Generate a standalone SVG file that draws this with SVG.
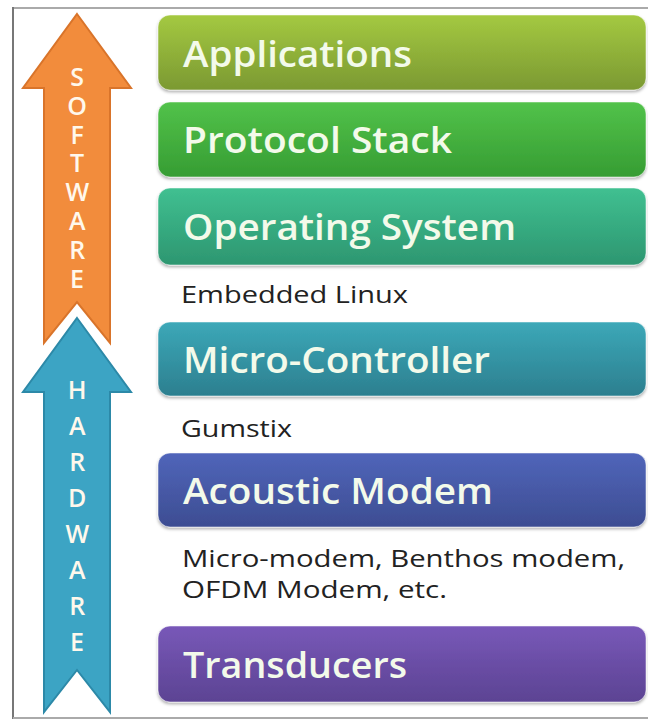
<svg xmlns="http://www.w3.org/2000/svg" width="648" height="724" viewBox="0 0 648 724">
  <defs>
    <linearGradient id="g1" x1="0" y1="0" x2="0" y2="1"><stop offset="0" stop-color="#A4C941"/><stop offset="1" stop-color="#7B9932"/></linearGradient>
    <linearGradient id="g2" x1="0" y1="0" x2="0" y2="1"><stop offset="0" stop-color="#52C24A"/><stop offset="1" stop-color="#369D33"/></linearGradient>
    <linearGradient id="g3" x1="0" y1="0" x2="0" y2="1"><stop offset="0" stop-color="#40C091"/><stop offset="1" stop-color="#2D9670"/></linearGradient>
    <linearGradient id="g4" x1="0" y1="0" x2="0" y2="1"><stop offset="0" stop-color="#3CA8B8"/><stop offset="1" stop-color="#2C7F8F"/></linearGradient>
    <linearGradient id="g5" x1="0" y1="0" x2="0" y2="1"><stop offset="0" stop-color="#5065BA"/><stop offset="1" stop-color="#3D4D92"/></linearGradient>
    <linearGradient id="g6" x1="0" y1="0" x2="0" y2="1"><stop offset="0" stop-color="#7858B8"/><stop offset="1" stop-color="#5C4393"/></linearGradient>
    <filter id="sh" x="-5%" y="-20%" width="110%" height="150%">
      <feDropShadow dx="0" dy="2" stdDeviation="1.5" flood-color="#000" flood-opacity="0.3"/>
    </filter>
  </defs>
  <style>
    .box { stroke: #ffffff; stroke-opacity: 0.5; stroke-width: 1; filter: url(#sh); }
    .lbl { font-family: "Open Sans", "Noto Sans", sans-serif; font-weight: 600; font-size: 36px; fill: #F3FAEA; }
    .sub { font-family: "Open Sans", "Noto Sans", sans-serif; font-size: 24px; fill: #222222; }
    .let { font-family: "Open Sans", "Noto Sans", sans-serif; font-weight: 600; font-size: 25px; fill: #FFF8EC; writing-mode: vertical-rl; text-orientation: upright; }
  </style>
  <rect x="0" y="0" width="648" height="724" fill="#ffffff"/>
  <g id="frame" fill="none">
    <line x1="13" y1="8" x2="648" y2="8" stroke="#aaaaaa" stroke-width="2"/>
    <line x1="13" y1="7" x2="13" y2="719" stroke="#777777" stroke-width="2"/>
    <line x1="13" y1="718" x2="648" y2="718" stroke="#aaaaaa" stroke-width="2"/>
  </g>
  <g id="connectors">
    <g id="software-arrow">
      <polygon points="77,14 131,88 110,88 110,343 77,302 44,343 44,88 23,88" fill="#F28C3C" stroke="#D9742A" stroke-width="2"/>
      <text class="let" x="77" y="59" letter-spacing="-5.2">SOFTWARE</text>
    </g>
    <g id="hardware-arrow">
      <polygon points="77,318 131,392 110,392 110,712 77,670 44,712 44,392 23,392" fill="#3CA4C4" stroke="#2C89A8" stroke-width="2"/>
      <text class="let" x="77" y="372" letter-spacing="2">HARDWARE</text>
    </g>
  </g>
  <g id="applications">
    <rect class="box" x="158" y="15" width="488" height="75" rx="12" fill="url(#g1)"/>
    <text class="lbl" x="183" y="67" textLength="229" lengthAdjust="spacingAndGlyphs">Applications</text>
  </g>
  <g id="protocol-stack">
    <rect class="box" x="158" y="102" width="488" height="75" rx="12" fill="url(#g2)"/>
    <text class="lbl" x="183" y="153" textLength="269" lengthAdjust="spacingAndGlyphs">Protocol Stack</text>
  </g>
  <g id="operating-system">
    <rect class="box" x="158" y="188" width="488" height="77" rx="12" fill="url(#g3)"/>
    <text class="lbl" x="183" y="240" textLength="333" lengthAdjust="spacingAndGlyphs">Operating System</text>
  </g>
  <g id="embedded-linux">
    <text class="sub" x="181" y="303" textLength="227" lengthAdjust="spacingAndGlyphs">Embedded Linux</text>
  </g>
  <g id="micro-controller">
    <rect class="box" x="158" y="322" width="488" height="74" rx="12" fill="url(#g4)"/>
    <text class="lbl" x="183" y="373" textLength="307" lengthAdjust="spacingAndGlyphs">Micro-Controller</text>
  </g>
  <g id="gumstix">
    <text class="sub" x="181" y="437" textLength="111" lengthAdjust="spacingAndGlyphs">Gumstix</text>
  </g>
  <g id="acoustic-modem">
    <rect class="box" x="158" y="453" width="488" height="74" rx="12" fill="url(#g5)"/>
    <text class="lbl" x="183" y="504" textLength="310" lengthAdjust="spacingAndGlyphs">Acoustic Modem</text>
  </g>
  <g id="modem-examples">
    <text class="sub" x="182" y="567" textLength="443" lengthAdjust="spacingAndGlyphs">Micro-modem, Benthos modem,</text>
    <text class="sub" x="182" y="598" textLength="265" lengthAdjust="spacingAndGlyphs">OFDM Modem, etc.</text>
  </g>
  <g id="transducers">
    <rect class="box" x="158" y="626" width="488" height="76" rx="12" fill="url(#g6)"/>
    <text class="lbl" x="183" y="678" textLength="224" lengthAdjust="spacingAndGlyphs">Transducers</text>
  </g>
</svg>
